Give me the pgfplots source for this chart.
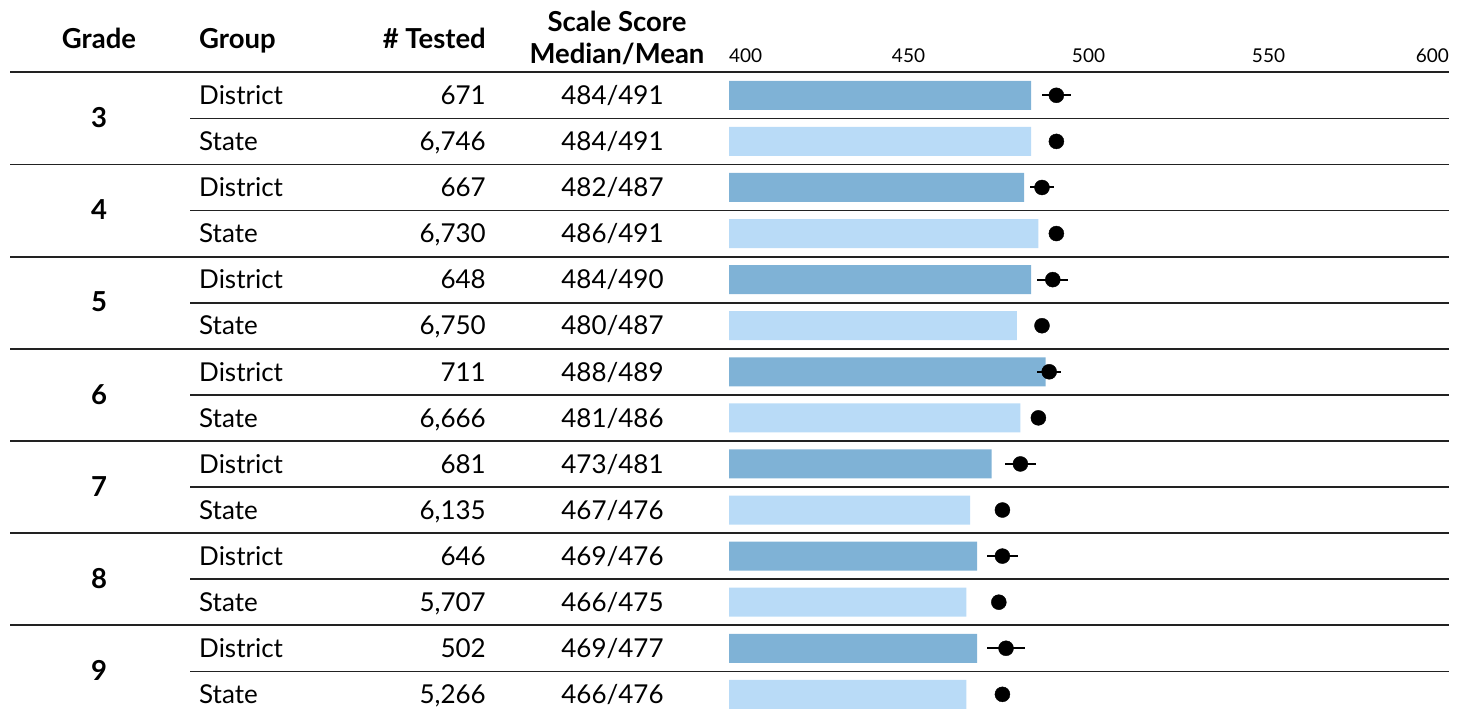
\documentclass[border=0pt]{standalone}
\usepackage{fontspec}
\setmainfont{Lato}
\usepackage{pgfplots}
\pgfplotsset{compat=1.18}
\usepackage{pgfplotstable}
\definecolor{distc}{HTML}{7FB2D6}
\definecolor{statec}{HTML}{B9DBF7}
\definecolor{rulec}{HTML}{222222}

\pgfplotstableread{
row median mean err
0 484 491 4.0
2 482 487 3.3
4 484 490 4.3
6 488 489 3.3
8 473 481 4.3
10 469 476 4.2
12 469 477 5.2
}\district
\pgfplotstableread{
row median mean err
1 484 491 0.8
3 486 491 0.8
5 480 487 0.8
7 481 486 0.8
9 467 476 0.8
11 466 475 0.8
13 466 476 0.8
}\statetab

\newcommand\rowfont{\fontsize{26}{30}\selectfont}
\newcommand\headfont{\fontsize{27.5}{32}\selectfont\bfseries}
\newcommand\tickfont{\fontsize{19}{22}\selectfont}

\begin{document}
\begin{tikzpicture}[x=1pt,y=1pt]
\begin{axis}[
  at={(729pt,0pt)}, anchor=south west,
  width=719.5pt, height=713pt, scale only axis,
  xmin=400, xmax=600, ymin=-2.068, ymax=13.405, y dir=reverse,
  axis line style={draw=none}, ticks=none,
]
\addplot[xbar, bar width=0.63, bar shift=0pt, fill=distc, draw=none] table[x=median,y=row]{\district};
\addplot[xbar, bar width=0.63, bar shift=0pt, fill=statec, draw=none] table[x=median,y=row]{\statetab};
\addplot[only marks, mark=*, mark size=7.5pt, black,
  error bars/.cd, x dir=both, x explicit, error mark=none,
  error bar style={line width=2pt,black}]
  table[x=mean,y=row,x error=err]{\district};
\addplot[only marks, mark=*, mark size=7.5pt, black,
  error bars/.cd, x dir=both, x explicit, error mark=none,
  error bar style={line width=2pt,black}]
  table[x=mean,y=row,x error=err]{\statetab};
\end{axis}

% rules
\foreach \k in {0,...,6} {
  \pgfmathsetmacro\ya{713-(72.3+92.16*\k)}
  \pgfmathsetmacro\yb{713-(118.4+92.16*\k)}
  \draw[rulec, line width=1.8pt] (10,\ya) -- (1449,\ya);
  \draw[rulec, line width=1.6pt] (190,\yb) -- (1449,\yb);
}

% headers
\node[anchor=base, inner sep=0pt, font=\headfont] at (99,664) {Grade};
\node[anchor=base west, inner sep=0pt, font=\headfont] at (199,664) {Group};
\node[anchor=base east, inner sep=0pt, font=\headfont] at (486,664) {\# Tested};
\node[anchor=base, inner sep=0pt, font=\headfont] at (617,681) {Scale Score};
\node[anchor=base, inner sep=0pt, font=\headfont] at (617,649) {Median/Mean};

% tick labels
\node[anchor=base west, inner sep=0pt, font=\tickfont] at (729,650) {400};
\node[anchor=base, inner sep=0pt, font=\tickfont] at (908.5,650) {450};
\node[anchor=base, inner sep=0pt, font=\tickfont] at (1088.5,650) {500};
\node[anchor=base, inner sep=0pt, font=\tickfont] at (1268.5,650) {550};
\node[anchor=base east, inner sep=0pt, font=\tickfont] at (1449,650) {600};

% row texts
\foreach \i/\g/\n/\md/\mn in {
  0/District/671/484/491, 1/State/6{,}746/484/491,
  2/District/667/482/487, 3/State/6{,}730/486/491,
  4/District/648/484/490, 5/State/6{,}750/480/487,
  6/District/711/488/489, 7/State/6{,}666/481/486,
  8/District/681/473/481, 9/State/6{,}135/467/476,
  10/District/646/469/476, 11/State/5{,}707/466/475,
  12/District/502/469/477, 13/State/5{,}266/466/476} {
  \pgfmathsetmacro\yb{713-(95.3+46.08*\i+9.3)}
  \node[anchor=base west, inner sep=0pt, font=\rowfont] at (199,\yb) {\g};
  \node[anchor=base east, inner sep=0pt, font=\rowfont] at (486,\yb) {\n};
  \node[anchor=base, inner sep=0pt, font=\rowfont] at (612.5,\yb) {\md/\mn};
}
\foreach \k in {0,...,6} {
  \pgfmathsetmacro\yb{713-(118.35+92.16*\k+9.3)}
  \pgfmathtruncatemacro\gr{\k+3}
  \node[anchor=base, inner sep=0pt, font=\headfont] at (99,\yb) {\gr};
}

\pgfresetboundingbox
\path (0,0) rectangle (1467,713);
\end{tikzpicture}
\end{document}
